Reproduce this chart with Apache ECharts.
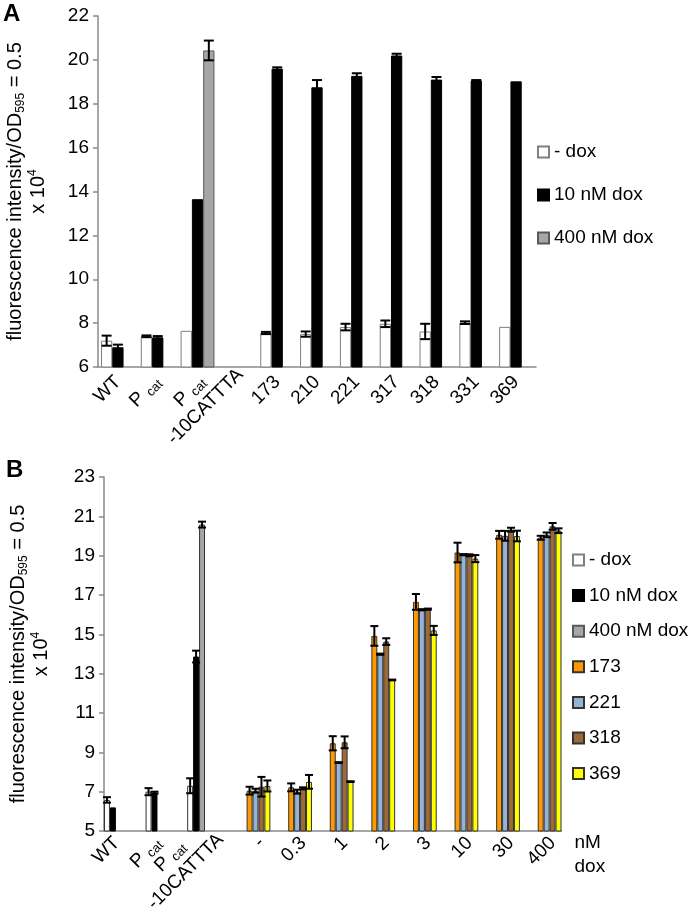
<!DOCTYPE html>
<html><head><meta charset="utf-8">
<script src="https://cdn.jsdelivr.net/npm/echarts@6/dist/echarts.min.js"></script>
<style>html,body{margin:0;padding:0;background:#fff}#c{width:695px;height:919px}</style>
</head><body><div id="c"></div>
<script>
// ---------- Panel A data ----------
const catsA = ['WT','Pcat','Pcat-10CATTTA','','173','210','221','317','318','331','369'];
const namesA = ['- dox','10 nM dox','400 nM dox'];
const yTicksA = [6, 8, 10, 12, 14, 16, 18, 20, 22];
const aNoDox    = [7.2, 7.4, 7.65, null, 7.55, 7.5, 7.82, 7.97, 7.62, 8.02, 7.83];
const aNoDoxErr = [0.23, 0.04, null, null, 0.05, 0.12, 0.15, 0.15, 0.35, 0.06, null];
const a10nM     = [6.9, 7.35, 13.65, null, 19.6, 18.75, 19.27, 20.2, 19.1, 19.05, 19.02];
const a10nMErr  = [0.12, 0.06, null, null, 0.06, 0.33, 0.12, 0.08, 0.12, 0.03, null];
const a400nM    = [null, null, 20.43, null, null, null, null, null, null, null, null];
const a400nMErr = [null, null, 0.45, null, null, null, null, null, null, null, null];

// ---------- Panel B data ----------
const catsB = ['WT','Pcat','Pcat-10CATTTA','-','0.3','1','2','3','10','30','400'];
const namesB = ['- dox','10 nM dox','400 nM dox','173','221','318','369'];
const yTicksB = [5, 7, 9, 11, 13, 15, 17, 19, 21, 23];
const bNoDox    = [6.58, 7.0, 7.3, null, null, null, null, null, null, null, null];
const bNoDoxErr = [0.14, 0.18, 0.38, null, null, null, null, null, null, null, null];
const b10nM     = [6.2, 6.95, 13.87, null, null, null, null, null, null, null, null];
const b10nMErr  = [null, 0.05, 0.3, null, null, null, null, null, null, null, null];
const b400nM    = [null, null, 20.58, null, null, null, null, null, null, null, null];
const b400nMErr = [null, null, 0.15, null, null, null, null, null, null, null, null];
const b173    = [null, null, null, 7.05, 7.22, 9.46, 14.92, 16.65, 19.16, 20.06, 19.91];
const b173Err = [null, null, null, 0.2, 0.2, 0.36, 0.5, 0.4, 0.5, 0.2, 0.1];
const b221    = [null, null, null, 7.05, 7.0, 8.48, 13.99, 16.25, 19.05, 20.01, 20.06];
const b221Err = [null, null, null, 0.1, 0.1, 0.02, 0.03, 0.03, 0.03, 0.25, 0.12];
const b318    = [null, null, null, 7.25, 7.17, 9.51, 14.63, 16.28, 19.02, 20.32, 20.49];
const b318Err = [null, null, null, 0.5, 0.05, 0.3, 0.17, 0.03, 0.05, 0.1, 0.17];
const b369    = [null, null, null, 7.29, 7.5, 7.51, 12.68, 15.2, 18.85, 20.0, 20.27];
const b369Err = [null, null, null, 0.28, 0.35, 0.02, 0.02, 0.23, 0.18, 0.27, 0.12];

const FONT = 'Liberation Sans, Arial, sans-serif';
const AXIS_GRAY = '#8a8a8a';

function catLabel(v){
  if (v === 'Pcat') return 'P {sub|cat}';
  if (v === 'Pcat-10CATTTA') return 'P {sub|cat}\n-10CATTTA';
  return v;
}
const nameRich = {
  sub: {fontSize: 12, lineHeight: 8, verticalAlign: 'bottom', fontFamily: FONT, color: '#000'},
  sup: {fontSize: 12, lineHeight: 8, verticalAlign: 'top', fontFamily: FONT, color: '#000'}
};
const yName = 'fluorescence intensity/OD{sub|595} = 0.5\nx 10{sup|4}';

function errSeries(ax, slot, nSlots, gap, vals, errs, capW){
  const data = [];
  vals.forEach((v, i) => { if (v != null && errs[i] != null) data.push([i, v, errs[i]]); });
  return {
    type: 'custom', xAxisIndex: ax, yAxisIndex: ax, z: 5, silent: true,
    data: data, encode: {x: 0, y: 1},
    renderItem: function(params, api){
      const i = api.value(0), v = api.value(1), e = api.value(2);
      const W = api.size([1, 0])[0];
      const grp = W * (1 - gap), bw = grp / nSlots;
      const cx = api.coord([i, v])[0] - grp / 2 + (slot + 0.5) * bw;
      const yt = api.coord([i, v + e])[1], yb = api.coord([i, v - e])[1];
      const st = {stroke: '#000', lineWidth: 2};
      return {type: 'group', children: [
        {type: 'line', shape: {x1: cx, y1: yt, x2: cx, y2: yb}, style: st},
        {type: 'line', shape: {x1: cx - capW / 2, y1: yt, x2: cx + capW / 2, y2: yt}, style: st},
        {type: 'line', shape: {x1: cx - capW / 2, y1: yb, x2: cx + capW / 2, y2: yb}, style: st}
      ]};
    }
  };
}

const GAP_A = 0.15, GAP_B = 0;
const stylesA = [
  {color: '#ffffff', borderColor: '#7f7f7f', borderWidth: 1},
  {color: '#000000', borderColor: '#000000', borderWidth: 1},
  {color: '#a6a6a6', borderColor: '#595959', borderWidth: 1}
];
const stylesB = [
  {color: '#ffffff', borderColor: '#333333', borderWidth: 1},
  {color: '#000000', borderColor: '#000000', borderWidth: 1},
  {color: '#a6a6a6', borderColor: '#333333', borderWidth: 1},
  {color: '#ff9900', borderColor: '#333333', borderWidth: 1},
  {color: '#95b3d7', borderColor: '#333333', borderWidth: 1},
  {color: '#9c6a38', borderColor: '#333333', borderWidth: 1},
  {color: '#ffff00', borderColor: '#333333', borderWidth: 1}
];
const valsA = [aNoDox, a10nM, a400nM], errsA = [aNoDoxErr, a10nMErr, a400nMErr];
const valsB = [bNoDox, b10nM, b400nM, b173, b221, b318, b369];
const errsB = [bNoDoxErr, b10nMErr, b400nMErr, b173Err, b221Err, b318Err, b369Err];

const series = [];
valsA.forEach((vals, k) => series.push({
  type: 'bar', name: namesA[k], xAxisIndex: 0, yAxisIndex: 0, data: vals,
  barGap: '0%', barCategoryGap: (GAP_A * 100) + '%', itemStyle: stylesA[k], silent: true
}));
valsB.forEach((vals, k) => series.push({
  type: 'bar', name: namesB[k], xAxisIndex: 1, yAxisIndex: 1, data: vals,
  barGap: '0%', barCategoryGap: (GAP_B * 100) + '%', itemStyle: stylesB[k], silent: true
}));
valsA.forEach((vals, k) => series.push(errSeries(0, k, 3, GAP_A, vals, errsA[k], 10)));
valsB.forEach((vals, k) => series.push(errSeries(1, k, 7, GAP_B, vals, errsB[k], 8)));

function xAxisCfg(idx, cats, extra){
  return Object.assign({
    type: 'category', gridIndex: idx, data: cats,
    axisLine: {lineStyle: {color: AXIS_GRAY, width: 1.5}},
    axisTick: {show: false},
    axisLabel: {show: false},
    splitLine: {show: false}
  }, extra || {});
}
function yAxisCfg(idx, ticks, gap){
  return {
    type: 'value', gridIndex: idx, min: ticks[0], max: ticks[ticks.length - 1],
    interval: ticks[1] - ticks[0],
    axisLine: {show: true, lineStyle: {color: AXIS_GRAY, width: 1.5}},
    axisTick: {show: true, inside: false, length: 5, lineStyle: {color: AXIS_GRAY, width: 1.5}},
    axisLabel: {fontSize: 19, fontFamily: FONT, color: '#000', margin: 9},
    splitLine: {show: false},
    name: yName, nameLocation: 'middle', nameRotate: 90, nameGap: gap,
    nameTextStyle: {fontSize: 20, lineHeight: 23, fontFamily: FONT, color: '#000', rich: nameRich}
  };
}

const option = {
  animation: false,
  backgroundColor: '#ffffff',
  textStyle: {fontFamily: FONT},
  title: [
    {text: 'A', left: 3, top: 2, padding: 0, textStyle: {fontSize: 24, fontWeight: 'bold', fontFamily: FONT, color: '#000'}},
    {text: 'B', left: 6, top: 458, padding: 0, textStyle: {fontSize: 24, fontWeight: 'bold', fontFamily: FONT, color: '#000'}}
  ],
  grid: [
    {left: 98, top: 16, width: 438, height: 351, outerBoundsMode: 'none', containLabel: false},
    {left: 104, top: 477, width: 457.5, height: 354, outerBoundsMode: 'none', containLabel: false}
  ],
  legend: [
    {orient: 'vertical', left: 537, top: 142, padding: 0, itemGap: 23, itemWidth: 11, itemHeight: 11,
     icon: 'rect', data: namesA.slice(), selectedMode: false,
     textStyle: {fontSize: 19, lineHeight: 20, fontFamily: FONT, color: '#000'}},
    {orient: 'vertical', left: 572, top: 550, padding: 0, itemGap: 15.6, itemWidth: 11, itemHeight: 11,
     icon: 'rect', data: namesB.slice(), selectedMode: false,
     textStyle: {fontSize: 19, lineHeight: 20, fontFamily: FONT, color: '#000'}}
  ],
  xAxis: [
    xAxisCfg(0, catsA),
    xAxisCfg(1, catsB, {name: 'nM\ndox', nameLocation: 'end', nameGap: 13,
      nameTextStyle: {fontSize: 19, lineHeight: 24, align: 'left', verticalAlign: 'top', fontFamily: FONT, color: '#000'}})
  ],
  yAxis: [yAxisCfg(0, yTicksA, 48), yAxisCfg(1, yTicksB, 51)],
  series: series
};
const chart = echarts.init(document.getElementById('c'));
chart.setOption(option);

// Slanted category labels: a rotated group placed at each category position given by the library's axes.
const labelRichZr = {
  sub: {fontSize: 13, lineHeight: 8, verticalAlign: 'bottom', fontFamily: FONT, fill: '#000'}
};
const labelLayouts = [
  {grid: 0, cats: catsA, y0: yTicksA[0], margin: 12, dxSingle: () => 0, dxMulti: 0, dyMulti: 20},
  {grid: 1, cats: catsB, y0: yTicksB[0], margin: 9, dxSingle: i => (i < 3 ? -8 : 12), dxMulti: -30, dyMulti: 24}
];
const labelEls = [];
labelLayouts.forEach(L => {
  L.cats.forEach((c, i) => {
    if (!c) return;
    const p = chart.convertToPixel({gridIndex: L.grid}, [i, L.y0]);
    const multi = c.indexOf('-10') >= 0;
    labelEls.push({
      type: 'group', silent: true,
      x: p[0] + (multi ? L.dxMulti : L.dxSingle(i)),
      y: p[1] + L.margin + (multi ? L.dyMulti : 0),
      rotation: Math.PI / 4,
      children: [{
        type: 'text', silent: true, x: 0, y: 0,
        style: {
          text: catLabel(c), fontSize: 19, fontFamily: FONT, fill: '#000', lineHeight: 22,
          align: multi ? 'center' : 'right', verticalAlign: 'middle', rich: labelRichZr
        }
      }]
    });
  });
});
chart.setOption({graphic: {elements: labelEls}});
</script>
</body></html>
